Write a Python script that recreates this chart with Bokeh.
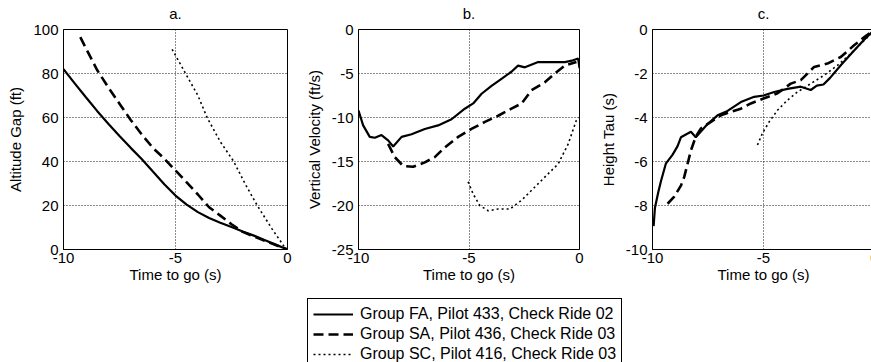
from bokeh.plotting import figure
from bokeh.layouts import row, column
from bokeh.models import Legend, LegendItem, FixedTicker, Range1d
from bokeh.embed import file_html
from bokeh.resources import INLINE

# ---------------- data ----------------
x_ticks = [-10, -5, 0]

# panel a: Altitude Gap (ft)
a_fa_t = [-10, -9.5, -9, -8.5, -8, -7.5, -7, -6.5, -6, -5.5, -5, -4.5, -4, -3.5, -3, -2.5, -2, -1.5, -1, -0.5, 0]
a_fa_v = [82, 75.5, 69.2, 63, 57.2, 51.6, 46.2, 41, 35.3, 29.7, 24.5, 20.4, 17.0, 14.3, 12.2, 10.2, 8.2, 6.3, 4.2, 2.1, 0]
a_sa_t = [-9.25, -9, -8.5, -8, -7.5, -7, -6.5, -6, -5.5, -5, -4.5, -4, -3.5, -3, -2.5, -2, -1.5, -1, -0.5, 0]
a_sa_v = [96.5, 91.5, 81.6, 73.7, 66.3, 58.9, 52.2, 46.1, 41.3, 35.9, 30.5, 25.0, 19.2, 15.4, 11.5, 8.0, 5.9, 3.9, 1.9, 0]
a_sc_t = [-5.15, -4.55, -4.0, -3.59, -3.0, -2.4, -1.9, -1.35, -0.7, -0.09]
a_sc_v = [91, 80, 70, 60, 49, 40, 30, 20, 9.5, 0.5]
a_yticks = [0, 20, 40, 60, 80, 100]

# panel b: Vertical Velocity (ft/s)
b_fa_t = [-10, -9.79, -9.49, -9.26, -8.96, -8.66, -8.43, -8.05, -7.6, -7.0, -6.4, -5.79, -5.19, -4.81,
          -4.43, -3.98, -3.53, -3.08, -2.78, -2.47, -1.87, -1.27, -0.66, -0.29, -0.06, 0]
b_fa_v = [-9.2, -10.9, -12.2, -12.3, -12.0, -12.6, -13.3, -12.2, -11.9, -11.3, -10.9, -10.2, -9.0, -8.4,
          -7.3, -6.4, -5.6, -4.8, -4.1, -4.3, -3.7, -3.7, -3.7, -3.5, -3.3, -4.4]
b_sa_t = [-8.66, -8.36, -7.98, -7.53, -7.0, -6.55, -6.09, -5.49, -4.89, -4.28, -3.68, -3.08, -2.62,
          -2.17, -1.57, -1.12, -0.66, -0.14]
b_sa_v = [-13.0, -14.5, -15.5, -15.6, -15.1, -14.5, -13.4, -12.2, -11.3, -10.5, -9.8, -9.0, -8.4,
          -6.9, -6.0, -5.0, -4.1, -3.7]
b_sc_t = [-5.04, -4.81, -4.51, -4.13, -3.68, -3.15, -2.62, -2.02, -1.42, -0.97, -0.51, -0.14, 0]
b_sc_v = [-17.3, -18.7, -20.0, -20.6, -20.4, -20.4, -19.4, -17.9, -16.4, -15.3, -13.0, -10.3, -10.0]
b_yticks = [-25, -20, -15, -10, -5, 0]

# panel c: Height Tau (s)
c_fa_t = [-9.95, -9.89, -9.74, -9.62, -9.40, -9.10, -8.87, -8.72, -8.27, -8.05, -7.52, -7.07, -6.62,
          -6.02, -5.42, -5.0, -4.52, -3.92, -3.32, -2.87, -2.6, -2.3, -2.0, -1.5, -1.0, -0.5, 0]
c_fa_v = [-8.94, -8.1, -7.4, -6.9, -6.1, -5.7, -5.3, -4.9, -4.65, -4.9, -4.3, -3.9, -3.7,
          -3.3, -3.06, -3.0, -2.84, -2.7, -2.6, -2.75, -2.55, -2.5, -2.2, -1.6, -1.05, -0.5, 0]
c_sa_t = [-9.32, -9.02, -8.72, -8.57, -8.42, -8.27, -8.05, -7.82, -7.37, -6.92, -6.47, -6.02, -5.57,
          -5.0, -4.37, -3.77, -3.32, -2.72, -2.12, -1.52, -0.92, -0.47, 0]
c_sa_v = [-7.92, -7.6, -7.1, -6.7, -6.1, -5.5, -4.87, -4.5, -4.2, -3.9, -3.74, -3.6, -3.36,
          -3.14, -2.9, -2.46, -2.3, -1.7, -1.55, -1.25, -0.72, -0.35, 0]
c_sc_t = [-5.27, -5.05, -4.74, -4.37, -3.92, -3.47, -2.87, -2.27, -1.67, -1.07, -0.62, 0]
c_sc_v = [-5.25, -4.72, -4.19, -3.67, -3.21, -2.84, -2.46, -2.08, -1.63, -1.1, -0.65, -0.05]
c_yticks = [-10, -8, -6, -4, -2, 0]

series_labels = ["Group FA, Pilot 433, Check Ride 02",
                 "Group SA, Pilot 436, Check Ride 03",
                 "Group SC, Pilot 416, Check Ride 03"]

FONT = "Liberation Sans"
FS = "15px"

STYLES = [dict(line_color="black", line_width=2.2),
          dict(line_color="black", line_width=2.6, line_dash="10 5"),
          dict(line_color="black", line_width=1.6, line_dash="2 3")]


def make_fig(title, ylabel, yr, yticks, left, fw, right, bottom):
    p = figure(output_backend="svg", toolbar_location=None,
               frame_width=fw, frame_height=220,
               min_border_left=left, min_border_right=right,
               min_border_top=29, min_border_bottom=bottom,
               x_range=Range1d(-10, 0), y_range=Range1d(*yr),
               title=title)
    p.title.align = "center"
    p.title.text_font = FONT
    p.title.text_font_size = FS
    p.title.text_font_style = "normal"
    p.title.text_color = "black"
    p.title.standoff = 16
    p.outline_line_color = "black"
    p.outline_line_alpha = 1
    p.background_fill_color = "white"
    p.border_fill_color = "white"
    p.xaxis.ticker = FixedTicker(ticks=x_ticks)
    p.yaxis.ticker = FixedTicker(ticks=yticks)
    p.xaxis.major_label_overrides = {t: str(t) for t in x_ticks}
    p.yaxis.major_label_overrides = {t: str(t) for t in yticks}
    p.xaxis.axis_label = "Time to go (s)"
    p.yaxis.axis_label = ylabel
    for ax in (p.xaxis[0], p.yaxis[0]):
        ax.axis_line_color = "black"
        ax.major_tick_in = 0
        ax.major_tick_out = 0
        ax.minor_tick_line_color = None
        ax.major_label_text_font = FONT
        ax.major_label_text_font_size = FS
        ax.major_label_text_color = "black"
        ax.axis_label_text_font = FONT
        ax.axis_label_text_font_size = FS
        ax.axis_label_text_font_style = "normal"
        ax.axis_label_text_color = "black"
    p.xaxis.major_label_standoff = 3
    p.xaxis.axis_label_standoff = 0
    p.yaxis.major_label_standoff = 5
    p.yaxis.axis_label_standoff = 6
    for g in (p.xgrid[0], p.ygrid[0]):
        g.grid_line_color = "black"
        g.grid_line_dash = "1 2"
        g.grid_line_width = 1
        g.grid_line_alpha = 0.9
    return p


def draw(p, ts, vs):
    return [p.line(t, v, **s) for t, v, s in zip(ts, vs, STYLES)]


pa = make_fig("a.", "Altitude Gap (ft)", (0, 100), a_yticks, 55, 224, 15, 45)
draw(pa, [a_fa_t, a_sa_t, a_sc_t], [a_fa_v, a_sa_v, a_sc_v])

pb = make_fig("b.", "Vertical Velocity (ft/s)", (-25, 0), b_yticks, 55, 221, 17, 45)
draw(pb, [b_fa_t, b_sa_t, b_sc_t], [b_fa_v, b_sa_v, b_sc_v])

pc = make_fig("c.", "Height Tau (s)", (-10, 0), c_yticks, 56, 222, 5, 45)
draw(pc, [c_fa_t, c_sa_t, c_sc_t], [c_fa_v, c_sa_v, c_sc_v])

# ---------------- legend (own small figure under panel b) ----------------
# the legend figure's x range (1..2) lies outside every series' time values,
# so its line renderers only serve as legend glyph sources and draw nothing.
pl = figure(output_backend="svg", toolbar_location=None,
            frame_width=330, frame_height=80,
            min_border_left=0, min_border_right=0, min_border_top=0, min_border_bottom=0,
            x_range=Range1d(1, 2), y_range=Range1d(1, 2))
pl.axis.visible = False
pl.grid.visible = False
pl.outline_line_color = None
pl.background_fill_color = "white"
pl.border_fill_color = "white"
lr = draw(pl, [a_fa_t, a_sa_t, a_sc_t], [a_fa_v, a_sa_v, a_sc_v])

legend = Legend(items=[LegendItem(label=lab, renderers=[r]) for lab, r in zip(series_labels, lr)],
                location="top_left")
legend.border_line_color = "black"
legend.border_line_width = 1
legend.border_line_alpha = 1
legend.background_fill_color = "white"
legend.background_fill_alpha = 1
legend.label_text_font = FONT
legend.label_text_font_size = "16px"
legend.label_text_color = "black"
legend.glyph_width = 40
legend.glyph_height = 20
legend.label_height = 20
legend.label_standoff = 7
legend.spacing = 0
legend.padding = 5
legend.margin = 0
pl.add_layout(legend)
pl.margin = (4, 0, 0, 307)

top = row(pa, pb, pc, spacing=0, margin=(-6, 0, 0, 4))
layout = column(top, pl, spacing=0)

open("out.html", "w").write(file_html(layout, INLINE))
